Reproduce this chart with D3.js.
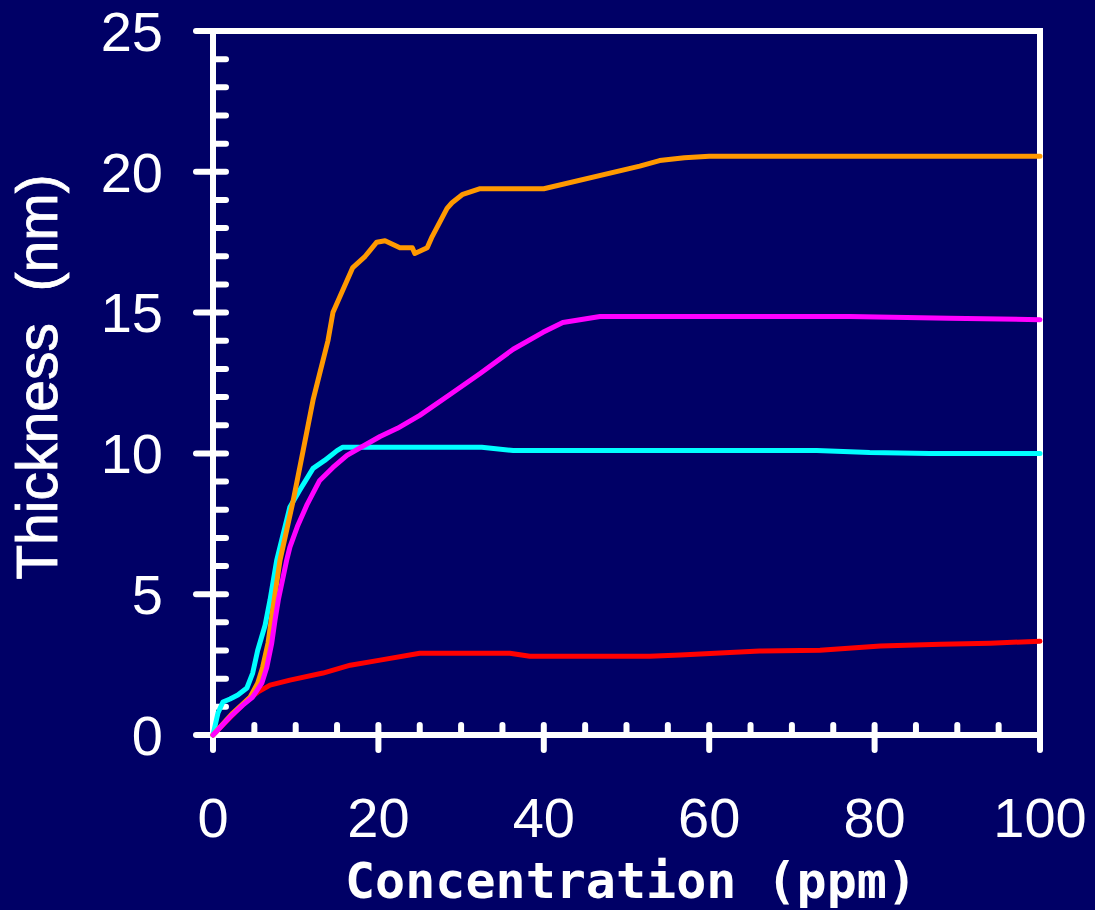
<!DOCTYPE html>
<html>
<head>
<meta charset="utf-8">
<script src="https://cdn.jsdelivr.net/npm/d3@7"></script>
<style>
  html, body { margin: 0; padding: 0; background: #000066; }
  svg { display: block; }
</style>
</head>
<body>
<svg id="chart" width="1095" height="910"></svg>
<script>
// Film thickness vs. concentration, four series
const xTicks = [0, 20, 40, 60, 80, 100];
const yTicks = [0, 5, 10, 15, 20, 25];

const orangeSeries = [
  [0, 0], [2.4, 0.78], [4.5, 1.35], [5.4, 1.84], [6.0, 2.4], [6.65, 3.26], [7.1, 4.2],
  [7.4, 4.8], [8.1, 6.2], [9.7, 8.33], [10.9, 10.1], [12.1, 11.9], [12.7, 12.6],
  [13.9, 14.0], [14.5, 15.0], [16.9, 16.6], [18.4, 17.0], [19.8, 17.5], [20.8, 17.55],
  [22.6, 17.3], [24.1, 17.3], [24.4, 17.1], [25.9, 17.3], [26.5, 17.7], [28.3, 18.7],
  [28.9, 18.9], [30.2, 19.2], [32.3, 19.4], [40, 19.4], [51.6, 20.2], [54, 20.4],
  [57, 20.5], [60, 20.55], [100, 20.55]
];

const magentaSeries = [
  [0, 0], [2.06, 0.64], [3.6, 1.06], [4.8, 1.35], [5.9, 1.84], [6.5, 2.4], [7.1, 3.26],
  [7.5, 4.08], [7.9, 4.8], [8.9, 6.2], [9.3, 6.67], [10.2, 7.4], [11.4, 8.2],
  [12.9, 9.04], [14.5, 9.5], [16.2, 9.93], [17.8, 10.2], [20.2, 10.6], [22.3, 10.89],
  [25.0, 11.35], [28.7, 12.1], [32.3, 12.84], [36.3, 13.7], [39.9, 14.3], [42.3, 14.65],
  [46.8, 14.86], [56.5, 14.86], [77, 14.86], [89, 14.8], [100, 14.75]
];

const cyanSeries = [
  [0, 0], [0.6, 0.78], [1.2, 1.17], [2.06, 1.28], [3.0, 1.42], [4.1, 1.67], [4.8, 2.2],
  [5.4, 3.0], [6.3, 3.9], [6.9, 4.8], [7.7, 6.2], [9.3, 8.1], [10.5, 8.7], [12.1, 9.47],
  [13.5, 9.75], [15.0, 10.1], [15.7, 10.22], [32.5, 10.22], [36.3, 10.1], [73, 10.1],
  [79.4, 10.03], [86.7, 10.0], [100, 10.0]
];

const redSeries = [
  [0, 0], [2, 0.6], [4.2, 1.25], [5.4, 1.52], [6.9, 1.77], [9.3, 1.95], [13.3, 2.2],
  [16.6, 2.48], [20.2, 2.66], [25, 2.9], [35.9, 2.9], [38.3, 2.8], [52.8, 2.8],
  [56.5, 2.84], [66.1, 2.98], [73.4, 3.01], [80.7, 3.16], [88, 3.22], [94, 3.26],
  [100, 3.33]
];

const seriesList = [
  { name: "red", color: "#ff0000", values: redSeries },
  { name: "cyan", color: "#00ffff", values: cyanSeries },
  { name: "orange", color: "#ff9900", values: orangeSeries },
  { name: "magenta", color: "#ff00ff", values: magentaSeries }
];

const svg = d3.select("#chart");
const x = d3.scaleLinear().domain([0, 100]).range([213, 1040]);
const y = d3.scaleLinear().domain([0, 25]).range([735, 31]);

const white = "#ffffff";
const axisG = svg.append("g")
  .attr("stroke", white)
  .attr("stroke-width", 6)
  .attr("stroke-linecap", "round");

// frame: left axis, bottom axis, top and right edges
axisG.append("line").attr("x1", x(0)).attr("x2", x(0)).attr("y1", y(25)).attr("y2", y(0) + 15).attr("stroke-linecap", "butt");
axisG.append("line").attr("x1", x(0) - 17).attr("x2", x(100)).attr("y1", y(0)).attr("y2", y(0)).attr("stroke-linecap", "butt");
axisG.append("line").attr("x1", x(0) - 17).attr("x2", x(100) + 3).attr("y1", y(25)).attr("y2", y(25)).attr("stroke-linecap", "butt");
axisG.append("line").attr("x1", x(100)).attr("x2", x(100)).attr("y1", y(25)).attr("y2", y(0) + 15).attr("stroke-linecap", "butt");

// y ticks: majors cross the axis, minors point inward
const yMinor = d3.range(0, 25.001, 1).filter(v => v % 5 !== 0);
axisG.selectAll(".ymaj").data(yTicks).join("line")
  .attr("x1", x(0) - 17).attr("x2", x(0) + 13)
  .attr("y1", d => y(d)).attr("y2", d => y(d));
axisG.selectAll(".ymin").data(yMinor).join("line")
  .attr("x1", x(0)).attr("x2", x(0) + 13)
  .attr("y1", d => y(d)).attr("y2", d => y(d));

// x ticks
const xMinor = d3.range(0, 100.001, 5).filter(v => v % 20 !== 0);
axisG.selectAll(".xmaj").data(xTicks).join("line")
  .attr("x1", d => x(d)).attr("x2", d => x(d))
  .attr("y1", y(0) - 10).attr("y2", y(0) + 15);
axisG.selectAll(".xmin").data(xMinor).join("line")
  .attr("x1", d => x(d)).attr("x2", d => x(d))
  .attr("y1", y(0) - 10).attr("y2", y(0));

// tick labels
const labelFont = "'Liberation Sans', Arial, sans-serif";
svg.append("g").selectAll("text").data(yTicks).join("text")
  .attr("x", 163).attr("y", d => y(d)).attr("dy", "0.355em")
  .attr("text-anchor", "end")
  .attr("fill", white).attr("font-family", labelFont).attr("font-size", 56)
  .text(d => d);

svg.append("g").selectAll("text").data(xTicks).join("text")
  .attr("x", d => x(d)).attr("y", 837)
  .attr("text-anchor", "middle")
  .attr("fill", white).attr("font-family", labelFont).attr("font-size", 56)
  .text(d => d);

// axis titles
svg.append("text")
  .attr("x", 631).attr("y", 898)
  .attr("text-anchor", "middle")
  .attr("fill", white)
  .attr("font-family", "'DejaVu Sans Mono', 'Liberation Mono', monospace")
  .attr("font-weight", "bold")
  .attr("font-size", 50)
  .text("Concentration (ppm)");

svg.append("text")
  .attr("transform", "translate(57,377) rotate(-90)")
  .attr("text-anchor", "middle")
  .attr("fill", white)
  .attr("stroke", white)
  .attr("stroke-width", 0.8)
  .attr("font-family", labelFont)
  .attr("font-size", 57)
  .style("white-space", "pre")
  .text("Thickness  (nm)");

// data lines
const line = d3.line().x(d => x(d[0])).y(d => y(d[1])).curve(d3.curveLinear);
svg.append("g").selectAll("path").data(seriesList).join("path")
  .attr("d", d => line(d.values))
  .attr("fill", "none")
  .attr("stroke", d => d.color)
  .attr("stroke-width", 5)
  .attr("stroke-linejoin", "round")
  .attr("stroke-linecap", "round");
</script>
</body>
</html>
